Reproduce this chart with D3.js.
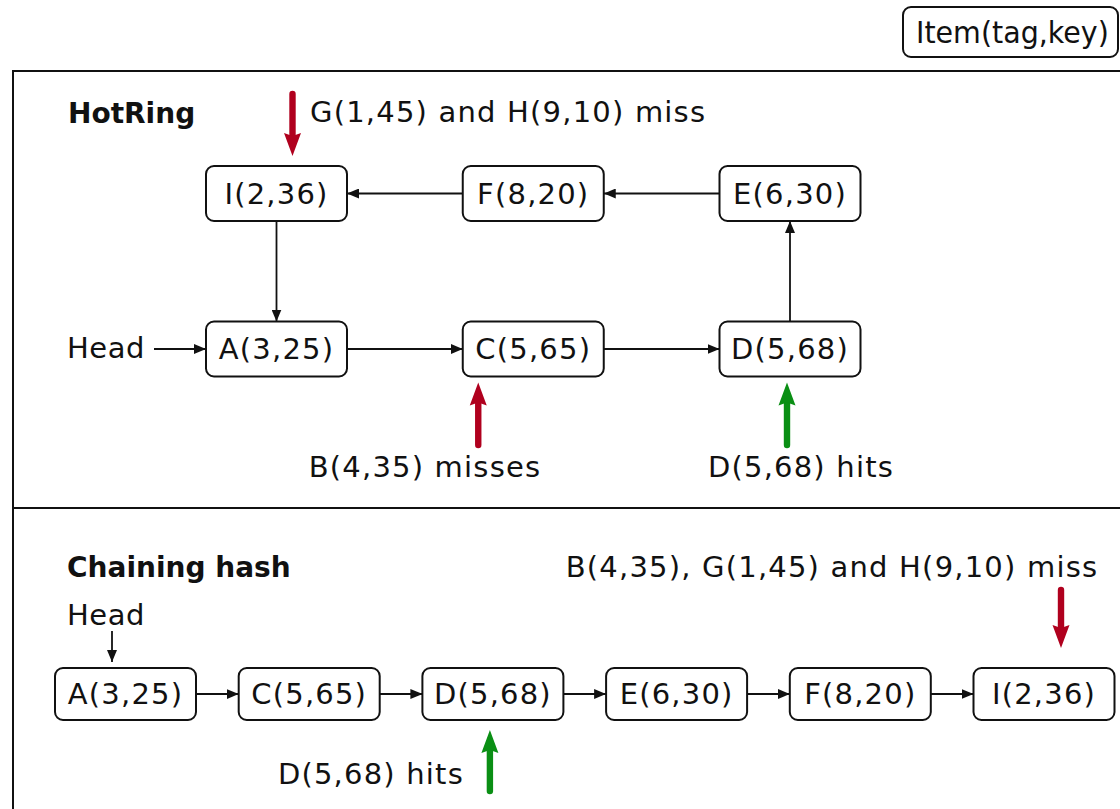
<!DOCTYPE html>
<html>
<head>
<meta charset="utf-8">
<script src="https://cdn.jsdelivr.net/npm/d3@7"></script>
<style>
  html, body { margin: 0; padding: 0; background: #fff; }
  svg { display: block; font-family: "DejaVu Sans", sans-serif; }
  .node rect { fill: #fff; stroke: #111; stroke-width: 2; }
  .node text, .label { font-size: 29px; letter-spacing: 1.2px; fill: #111; }
  .title { font-size: 28px; font-weight: bold; fill: #111; }
  .link { stroke: #111; stroke-width: 1.8; fill: none; }
  .frame { stroke: #111; stroke-width: 2; fill: none; }
</style>
</head>
<body>
<svg id="fig" width="1120" height="809"></svg>
<script>
// ---- data ----
const hotTop = ['I(2,36)', 'F(8,20)', 'E(6,30)']
const hotBottom = ['A(3,25)', 'C(5,65)', 'D(5,68)']
const hotRing = ['A(3,25)', 'C(5,65)', 'D(5,68)', 'E(6,30)', 'F(8,20)', 'I(2,36)']
const chainItems = ['A(3,25)', 'C(5,65)', 'D(5,68)', 'E(6,30)', 'F(8,20)', 'I(2,36)']
const hotProbes = [
  { target: 'I(2,36)', dir: 'down', kind: 'miss', text: 'G(1,45) and H(9,10) miss' },
  { target: 'C(5,65)', dir: 'up', kind: 'miss', text: 'B(4,35) misses' },
  { target: 'D(5,68)', dir: 'up', kind: 'hit', text: 'D(5,68) hits' }
]
const chainProbes = [
  { target: 'D(5,68)', dir: 'up', kind: 'hit', text: 'D(5,68) hits' },
  { target: 'I(2,36)', dir: 'down', kind: 'miss', text: 'B(4,35), G(1,45) and H(9,10) miss' }
]
const legendText = 'Item(tag,key)'

// ---- layout ----
const W = 1120, H = 809
const boxW = 141, hotBoxH = 55, chainBoxH = 52
const colors = { miss: '#b0001e', hit: '#0a8f14' }
// probe arrow shift from node centre, and label placement
const probeLayout = {
  hot: [
    { dx: 16, lx: 310, ly: 122, anchor: 'start' },
    { dx: -55, lx: 425, ly: 477, anchor: 'middle' },
    { dx: -3, lx: 801, ly: 477, anchor: 'middle' }
  ],
  chain: [
    { dx: -3, lx: 464, ly: 784, anchor: 'end' },
    { dx: 17, lx: 832, ly: 577, anchor: 'middle' }
  ]
}

const svg = d3.select('#fig')

const hx = d3.scalePoint().domain([0, 1, 2]).range([276.5, 790])
const hy = d3.scalePoint().domain([0, 1]).range([193.5, 349])
const cxScale = d3.scalePoint().domain(chainItems).range([125.5, 1044])
const chainY = 694

const hotPos = new Map()
hotTop.forEach((d, i) => hotPos.set(d, { x: hx(i), y: hy(0) }))
hotBottom.forEach((d, i) => hotPos.set(d, { x: hx(i), y: hy(1) }))

// markers
const defs = svg.append('defs')
defs.append('marker')
  .attr('id', 'tip')
  .attr('markerUnits', 'userSpaceOnUse')
  .attr('viewBox', '0 0 12 10')
  .attr('refX', 12).attr('refY', 5)
  .attr('markerWidth', 12).attr('markerHeight', 10)
  .attr('orient', 'auto')
  .append('path').attr('d', 'M0,0 L12,5 L0,10 Z').attr('fill', '#111')

const thickArrow = (g, x, tail, tip, color) => {
  const s = tip > tail ? 1 : -1
  const headL = 20, headW = 8.5, shaft = 3.2
  const base = tip - s * headL
  g.append('line')
    .attr('x1', x).attr('x2', x).attr('y1', tail).attr('y2', base + s * 2)
    .attr('stroke', color).attr('stroke-width', shaft * 2).attr('stroke-linecap', 'round')
  g.append('path')
    .attr('d', `M${x - headW},${base - s * 3} L${x},${base} L${x + headW},${base - s * 3} L${x},${tip} Z`)
    .attr('fill', color)
}

// frame
svg.append('path').attr('class', 'frame').attr('d', `M13,${H} L13,71 L${W + 5},71`)
svg.append('line').attr('class', 'frame').attr('x1', 13).attr('x2', W + 5).attr('y1', 508).attr('y2', 508)

// legend (text squeezed horizontally, like the narrow face in the original)
const lg = svg.append('g').attr('class', 'node')
lg.append('rect').attr('x', 903).attr('y', 7).attr('width', 215).attr('height', 50).attr('rx', 8)
lg.append('text')
  .attr('transform', 'translate(916,43) scale(0.92,1)')
  .style('font-size', '31px').style('letter-spacing', '0px')
  .text(legendText)

// ---- HotRing ----
svg.append('text').attr('class', 'title').attr('x', 68).attr('y', 123).text('HotRing')

const edgePoint = (a, b, h) => {
  if (Math.abs(a.y - b.y) < 1) {
    const s = Math.sign(b.x - a.x)
    return [[a.x + s * boxW / 2, a.y], [b.x - s * boxW / 2, b.y]]
  }
  const s = Math.sign(b.y - a.y)
  return [[a.x, a.y + s * h / 2], [b.x, b.y - s * h / 2]]
}

const hotLinks = hotRing.map((d, i) => [d, hotRing[(i + 1) % hotRing.length]])
svg.selectAll('line.hot-link')
  .data(hotLinks)
  .join('line')
  .attr('class', 'link hot-link')
  .each(function ([a, b]) {
    const [p, q] = edgePoint(hotPos.get(a), hotPos.get(b), hotBoxH)
    d3.select(this).attr('x1', p[0]).attr('y1', p[1]).attr('x2', q[0]).attr('y2', q[1])
  })
  .attr('marker-end', 'url(#tip)')

const hotNodes = svg.selectAll('g.hot-node')
  .data(hotRing)
  .join('g')
  .attr('class', 'node hot-node')
  .attr('transform', d => `translate(${hotPos.get(d).x},${hotPos.get(d).y})`)
hotNodes.append('rect')
  .attr('x', -boxW / 2).attr('y', -hotBoxH / 2)
  .attr('width', boxW).attr('height', hotBoxH).attr('rx', 8)
hotNodes.append('text').attr('text-anchor', 'middle').attr('dy', '0.36em').text(d => d)

// head
const aPos = hotPos.get(hotBottom[0])
svg.append('text').attr('class', 'label').attr('x', 67).attr('y', 358).style('letter-spacing', '0.5px').text('Head')
svg.append('line').attr('class', 'link')
  .attr('x1', 154).attr('y1', aPos.y).attr('x2', aPos.x - boxW / 2).attr('y2', aPos.y)
  .attr('marker-end', 'url(#tip)')

hotProbes.forEach((p, i) => {
  const lay = probeLayout.hot[i]
  const pos = hotPos.get(p.target)
  const x = pos.x + lay.dx
  const g = svg.append('g')
  if (p.dir === 'down') thickArrow(g, x, 94, pos.y - hotBoxH / 2 - 10, colors[p.kind])
  else thickArrow(g, x, 445, pos.y + hotBoxH / 2 + 6, colors[p.kind])
  svg.append('text').attr('class', 'label')
    .attr('x', lay.lx).attr('y', lay.ly).attr('text-anchor', lay.anchor).text(p.text)
})

// ---- Chaining hash ----
svg.append('text').attr('class', 'title').attr('x', 67).attr('y', 577).text('Chaining hash')
svg.append('text').attr('class', 'label').attr('x', 67).attr('y', 625).style('letter-spacing', '0.5px').text('Head')
svg.append('line').attr('class', 'link')
  .attr('x1', 112).attr('y1', 631).attr('x2', 112).attr('y2', chainY - chainBoxH / 2 - 6)
  .attr('marker-end', 'url(#tip)')

svg.selectAll('line.chain-link')
  .data(d3.pairs(chainItems))
  .join('line')
  .attr('class', 'link chain-link')
  .attr('x1', ([a]) => cxScale(a) + boxW / 2)
  .attr('x2', ([, b]) => cxScale(b) - boxW / 2)
  .attr('y1', chainY).attr('y2', chainY)
  .attr('marker-end', 'url(#tip)')

const chainNodes = svg.selectAll('g.chain-node')
  .data(chainItems)
  .join('g')
  .attr('class', 'node chain-node')
  .attr('transform', d => `translate(${cxScale(d)},${chainY})`)
chainNodes.append('rect')
  .attr('x', -boxW / 2).attr('y', -chainBoxH / 2)
  .attr('width', boxW).attr('height', chainBoxH).attr('rx', 8)
chainNodes.append('text').attr('text-anchor', 'middle').attr('dy', '0.36em').text(d => d)

chainProbes.forEach((p, i) => {
  const lay = probeLayout.chain[i]
  const x = cxScale(p.target) + lay.dx
  const g = svg.append('g')
  if (p.dir === 'down') thickArrow(g, x, 590, chainY - chainBoxH / 2 - 20, colors[p.kind])
  else thickArrow(g, x, 791, chainY + chainBoxH / 2 + 10, colors[p.kind])
  svg.append('text').attr('class', 'label')
    .attr('x', lay.lx).attr('y', lay.ly).attr('text-anchor', lay.anchor).text(p.text)
})
</script>
</body>
</html>
